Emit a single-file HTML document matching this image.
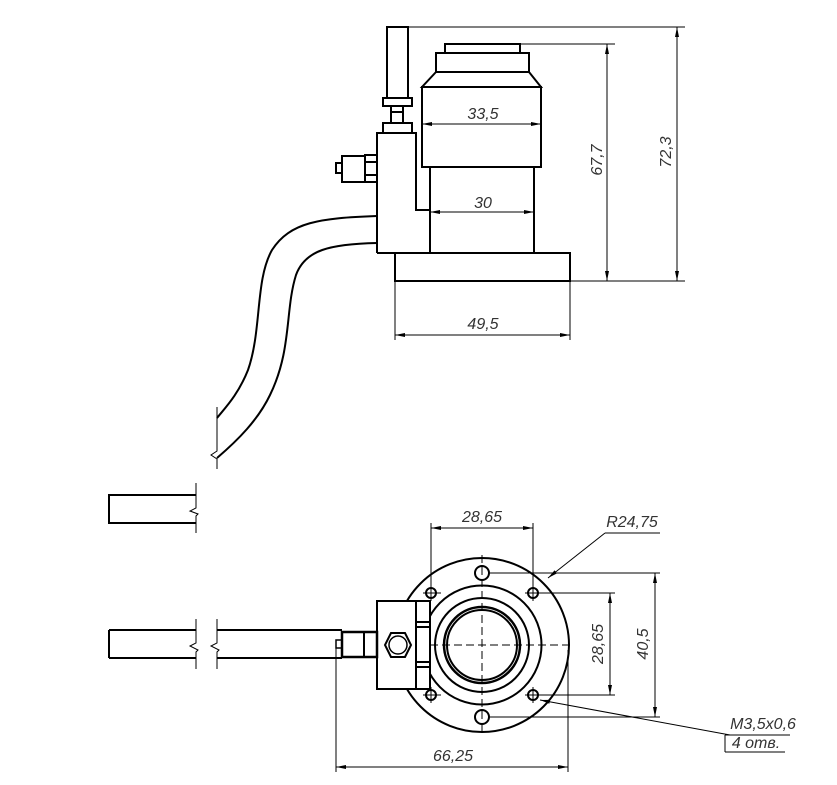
<!DOCTYPE html>
<html><head><meta charset="utf-8"><style>
html,body{margin:0;padding:0;background:#fff;width:837px;height:785px;overflow:hidden}
svg{display:block}
text{font-family:"Liberation Sans Narrow","Liberation Sans",sans-serif;font-style:italic;font-size:16px;fill:#333}
</style></head><body>
<svg width="837" height="785" viewBox="0 0 837 785" xmlns="http://www.w3.org/2000/svg">
<defs>
<marker id="a" viewBox="0 0 10 4" refX="10" refY="2" markerWidth="10" markerHeight="4" orient="auto-start-reverse" markerUnits="userSpaceOnUse"><path d="M0,0 L10,2 L0,4z" fill="#000"/></marker>
</defs>
<g fill="none" stroke="#000" stroke-width="2">
<rect x="445" y="44" width="75" height="9"/>
<rect x="436" y="53" width="93" height="19"/>
<path d="M436,72 L422,87 L541,87 L529,72"/>
<rect x="422" y="87" width="119" height="80"/>
<rect x="430" y="167" width="104" height="86"/>
<rect x="395" y="253" width="175" height="28"/>
<path d="M377,253 L377,133 L416,133 L416,210 L430,210"/>
<line x1="377" y1="253" x2="395" y2="253"/>
<rect x="387" y="27" width="21" height="71"/>
<rect x="383" y="98" width="29" height="8"/>
<rect x="391" y="106" width="12" height="17"/>
<line x1="391" y1="112" x2="403" y2="112"/>
<rect x="383" y="123" width="29" height="10"/>
<rect x="365" y="155" width="12" height="27"/>
<line x1="365" y1="162" x2="377" y2="162"/><line x1="365" y1="175" x2="377" y2="175"/>
<rect x="342" y="156" width="23" height="26"/>
<rect x="336" y="163" width="6" height="10"/>
<path d="M377,216 C320,218 290,222 272,250 C255,280 262,330 248,370 C238,395 225,408 217,418"/>
<path d="M377,243 C330,244 305,250 296,275 C285,310 292,350 270,395 C258,420 238,440 217,458"/>
<path d="M196,495 L109,495 L109,523 L196,523"/>
<path d="M109,630 L196,630 M109,658 L196,658 M109,630 L109,658"/>
<path d="M217,630 L342,630 M217,658 L342,658"/>
<circle cx="482" cy="645" r="87"/>
<circle cx="482" cy="645" r="59.5"/>
<circle cx="482" cy="645" r="47"/>
<circle cx="482" cy="645" r="38" stroke-width="2.5"/>
<circle cx="482" cy="645" r="35"/>
<circle cx="482" cy="573" r="7"/><circle cx="482" cy="717" r="7"/>
<circle cx="431" cy="593" r="5"/><circle cx="533" cy="593" r="5"/>
<circle cx="431" cy="695" r="5"/><circle cx="533" cy="695" r="5"/>
<rect x="377" y="601" width="53" height="88" fill="#fff"/>
<line x1="416" y1="601" x2="416" y2="689"/>
<path d="M416,622 L430,622 M416,627 L430,627 M416,662 L430,662 M416,667 L430,667"/>
<polygon points="391,633 405,633 411,645 405,657 391,657 385,645"/>
<circle cx="398" cy="645" r="9" stroke-width="1.5"/>
<rect x="342" y="632" width="35" height="25" stroke-width="2.5"/>
<line x1="364" y1="632" x2="364" y2="657"/>
<rect x="336" y="640" width="6" height="8" stroke-width="1.5"/>
</g>
<g fill="none" stroke="#000" stroke-width="1">
<path d="M217,407 L217,451 L211,455 L217,459 L217,469"/>
<path d="M196,483 L196,508 L190,511 L198,514 L196,516 L196,533"/>
<path d="M196,619 L196,643 L190,646 L198,650 L196,652 L196,669"/>
<path d="M217,619 L217,643 L211,646 L219,650 L217,652 L217,669"/>
<path d="M482,555 L482,735 M430,645 L572,645" stroke-dasharray="8,4"/>
<path d="M423,593 L441,593 M525,593 L543,593 M423,695 L441,695 M525,695 L543,695 M431,585 L431,601 M533,585 L533,601 M431,687 L431,703 M533,687 L533,703"/>
<path d="M408,27 L685,27 M520,44 L615,44 M570,281 L685,281"/>
<line x1="677" y1="27" x2="677" y2="281" marker-start="url(#a)" marker-end="url(#a)"/>
<line x1="607" y1="44" x2="607" y2="281" marker-start="url(#a)" marker-end="url(#a)"/>
<line x1="422" y1="124" x2="541" y2="124" marker-start="url(#a)" marker-end="url(#a)"/>
<line x1="430" y1="212" x2="534" y2="212" marker-start="url(#a)" marker-end="url(#a)"/>
<path d="M395,281 L395,340 M570,281 L570,340"/>
<line x1="395" y1="335" x2="570" y2="335" marker-start="url(#a)" marker-end="url(#a)"/>
<path d="M431,523 L431,588 M533,523 L533,588"/>
<line x1="431" y1="528" x2="533" y2="528" marker-start="url(#a)" marker-end="url(#a)"/>
<path d="M660,533 L605,533"/>
<line x1="605" y1="533" x2="548" y2="578" marker-end="url(#a)"/>
<path d="M538,593 L615,593 M538,695 L615,695 M489,573 L660,573 M489,717 L660,717"/>
<line x1="610" y1="593" x2="610" y2="695" marker-start="url(#a)" marker-end="url(#a)"/>
<line x1="655" y1="573" x2="655" y2="717" marker-start="url(#a)" marker-end="url(#a)"/>
<path d="M336,648 L336,772 M568,650 L568,772"/>
<line x1="336" y1="767" x2="568" y2="767" marker-start="url(#a)" marker-end="url(#a)"/>
<line x1="730" y1="735" x2="540" y2="700" marker-end="url(#a)"/>
<path d="M725,735 L790,735 M725,735 L725,752 M725,752 L785,752"/>
</g>
<text x="483" y="119" text-anchor="middle">33,5</text>
<text x="483" y="208" text-anchor="middle">30</text>
<text x="483" y="329" text-anchor="middle">49,5</text>
<text transform="translate(602,160) rotate(-90)" text-anchor="middle">67,7</text>
<text transform="translate(671,152) rotate(-90)" text-anchor="middle">72,3</text>
<text x="482" y="522" text-anchor="middle">28,65</text>
<text x="632" y="527" text-anchor="middle">R24,75</text>
<text transform="translate(603,644) rotate(-90)" text-anchor="middle">28,65</text>
<text transform="translate(648,644) rotate(-90)" text-anchor="middle">40,5</text>
<text x="453" y="761" text-anchor="middle">66,25</text>
<text x="763" y="729" text-anchor="middle" font-size="14">M3,5x0,6</text>
<text x="756" y="748" text-anchor="middle" font-size="14">4 отв.</text>
</svg>
</body></html>
